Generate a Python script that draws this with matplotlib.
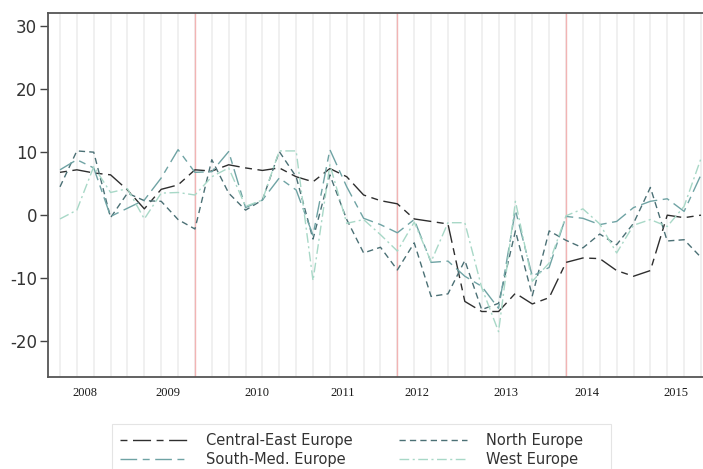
import numpy as np
import matplotlib
matplotlib.use("Agg")
import matplotlib.pyplot as plt
from matplotlib.patches import Rectangle

central_east = [6.8, 7.2, 6.7, 6.4, 4.0, 1.0, 4.1, 4.8, 7.2, 7.0,
                8.0, 7.5, 7.1, 7.5, 6.1, 5.3, 7.4, 6.1, 3.2, 2.3,
                1.8, -0.6, -1.0, -1.4, -13.7, -15.3, -15.3, -12.4, -14.1, -13.1,
                -7.5, -6.8, -6.9, -8.8, -9.7, -8.8, 0.0, -0.4, 0.0]
north = [4.5, 10.2, 10.0, -0.4, 3.5, 2.3, 2.2, -0.7, -2.2, 8.8,
         3.5, 0.8, 2.4, 10.1, 6.1, -3.8, 6.4, -0.7, -6.0, -5.1,
         -8.7, -4.4, -12.9, -12.5, -7.2, -15.0, -14.0, -2.5, -12.8, -2.5,
         -4.0, -5.2, -3.0, -4.7, -1.3, 4.4, -4.1, -3.9, -6.7]
south_med = [7.2, 8.8, 7.5, -0.2, 1.1, 2.4, 5.9, 10.4, 6.8, 6.9,
             10.1, 1.2, 2.4, 5.9, 4.0, -3.2, 10.4, 4.5, -0.5, -1.5,
             -2.8, -0.7, -7.5, -7.3, -9.7, -11.3, -14.8, 0.8, -9.7, -8.3,
             -0.2, -0.5, -1.5, -1.0, 1.2, 2.2, 2.6, 0.6, 6.4]
west = [-0.6, 0.8, 7.7, 3.6, 4.2, -0.6, 3.5, 3.6, 3.2, 6.1,
        7.5, 1.4, 2.4, 10.2, 10.2, -10.4, 8.0, -1.3, -0.7, -3.1,
        -5.7, -1.1, -7.4, -1.2, -1.2, -11.5, -18.5, 2.2, -10.5, -7.6,
        -0.1, 1.0, -1.4, -6.0, -1.6, -0.7, -1.8, 1.4, 9.0]

red_lines = [8, 20, 30]
year_labels = ["2008", "2009", "2010", "2011", "2012", "2013", "2014", "2015"]
year_pos = [1.48, 6.40, 11.68, 16.78, 21.16, 26.42, 31.22, 36.51]
y_ticks = [-20, -10, 0, 10, 20, 30]

plt.rcParams['lines.scale_dashes'] = False
plt.rcParams['font.family'] = ['DejaVu Sans']

W, H = 703, 469
fig = plt.figure(figsize=(W/100, H/100), dpi=100)
ax = fig.add_axes([48/W, 1-377/H, 1-48/W, (377-13)/H])

x = np.arange(len(central_east))
for q in x:
    ax.axvline(q, color='#ececec', lw=1.1, zorder=0)
for q in red_lines:
    ax.axvline(q, color='#f2b4b4', lw=1.0, zorder=1)

ax.plot(x, central_east, color='#2e2e2e', lw=1.0, dashes=(5, 4, 13, 4),
        label='Central-East Europe')
ax.plot(x, north, color='#4b7075', lw=1.0, dashes=(4.5, 3),
        label='North Europe')
ax.plot(x, south_med, color='#6fa3a4', lw=1.0, dashes=(12, 4, 5, 4),
        label='South-Med. Europe')
ax.plot(x, west, color='#a8d8c7', lw=1.0, dashes=(7, 2.5, 1.5, 2.5),
        label='West Europe')

ax.set_xlim(-0.711, 38.12)
ax.set_ylim(-25.7, 32.1)

ax.set_yticks(y_ticks)
ax.set_yticklabels([str(v) for v in y_ticks], fontsize=12, color='#333333')
ax.tick_params(axis='y', length=6, width=1, color='#444444', pad=2)
ax.set_xticks(year_pos)
ax.set_xticklabels(year_labels, family='Liberation Serif', fontsize=9,
                   color='#1a1a1a')
ax.tick_params(axis='x', length=0, pad=7)

for s in ['top', 'left', 'bottom']:
    ax.spines[s].set_color('#555555')
    ax.spines[s].set_linewidth(1.3)
ax.spines['right'].set_visible(False)

# legend frame drawn by hand so it runs off the bottom like the reference
fig.patches.append(Rectangle((112/W, -0.05), (611-112)/W, 0.05 + 1-424/H,
                             transform=fig.transFigure, facecolor='white',
                             edgecolor='#e4e4e4', lw=0.8))

handles, labels = ax.get_legend_handles_labels()
order = [0, 2, 1, 3]
leg = fig.legend([handles[i] for i in order], [labels[i] for i in order],
                 loc='upper left', bbox_to_anchor=(107/W, 1-420/H),
                 ncol=2, fontsize=10.5, frameon=False,
                 handlelength=4.6, handletextpad=1.3,
                 borderpad=0.4, labelspacing=0.25, columnspacing=3.2,
                 labelcolor='#333333')

fig.savefig('out.png', dpi=100)
